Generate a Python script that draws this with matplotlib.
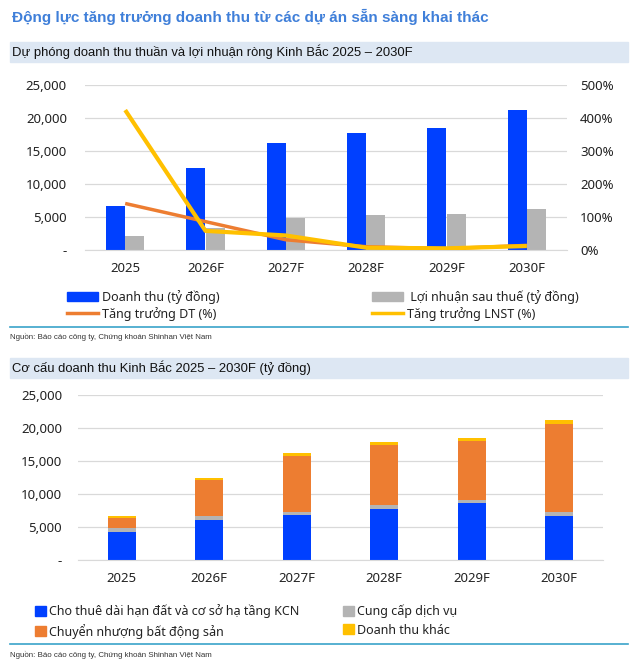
import numpy as np
import matplotlib.pyplot as plt
from matplotlib.patches import Rectangle, Patch
from matplotlib.lines import Line2D
from matplotlib.ticker import FuncFormatter

plt.rcParams['font.family'] = ['Noto Sans', 'DejaVu Sans']
NARROW = ['Liberation Sans', 'DejaVu Sans']

years = ['2025', '2026F', '2027F', '2028F', '2029F', '2030F']

# chart 1: revenue / net profit (ty dong), growth (%)
doanh_thu = [6650, 12400, 16200, 17800, 18500, 21150]
loi_nhuan = [2150, 3400, 4900, 5250, 5500, 6150]
tang_truong_dt = [141, 86, 31, 10, 4, 14]
tang_truong_lnst = [424, 58, 44, 7, 5, 12]

# chart 2: revenue structure (ty dong)
cho_thue = [4300, 6100, 6800, 7750, 8600, 6650]
dich_vu = [500, 500, 500, 550, 550, 600]
chuyen_nhuong = [1500, 5450, 8500, 9150, 8900, 13400]
khac = [350, 350, 400, 400, 450, 500]

BLUE = '#0040ff'
GRAY = '#b4b4b4'
ORANGE = '#ed7d31'
YELLOW = '#ffc000'
TEAL = '#3aa3c9'
BAND = '#dde7f3'
TXT = '#222222'

W, H = 634, 667
fig = plt.figure(figsize=(W / 100, H / 100), dpi=100)


def fy(y):
    return 1 - y / H


def fx(x):
    return x / W


def thousands(v, pos):
    return '-' if v == 0 else f'{v:,.0f}'


# headings
fig.text(fx(12), fy(17), 'Động lực tăng trưởng doanh thu từ các dự án sẵn sàng khai thác',
         color='#3f7fd9', fontsize=11, fontweight='bold', va='center', family=NARROW)
for top, txt in [(42, 'Dự phóng doanh thu thuần và lợi nhuận ròng Kinh Bắc 2025 – 2030F'),
                 (358, 'Cơ cấu doanh thu Kinh Bắc 2025 – 2030F (tỷ đồng)')]:
    fig.patches.append(Rectangle((fx(10), fy(top + 20)), fx(618), 20 / H,
                                 transform=fig.transFigure, color=BAND, zorder=0))
    fig.text(fx(12), fy(top + 10), txt, color='#111111', fontsize=9.4, va='center',
             family=NARROW)

for y in [327, 644]:
    fig.add_artist(Line2D([fx(10), fx(628)], [fy(y), fy(y)], color=TEAL, lw=1.2))
for y in [337, 655]:
    fig.text(fx(10), fy(y), 'Nguồn: Báo cáo công ty, Chứng khoán Shinhan Việt Nam',
             fontsize=5.7, color='#333333', va='center', family=NARROW)

x = np.arange(len(years))

# ---- chart 1
ax = fig.add_axes([fx(85), fy(250), fx(482), 165 / H])
w = 0.24
ax.bar(x - w / 2, doanh_thu, w, color=BLUE, zorder=2)
ax.bar(x + w / 2, loi_nhuan, w, color=GRAY, zorder=2)
ax.set_ylim(0, 25000)
ax.set_yticks(np.arange(0, 25001, 5000))
ax.yaxis.set_major_formatter(FuncFormatter(thousands))
ax.set_xlim(-0.5, 5.5)
ax.set_xticks(x, years)
ax.grid(axis='y', color='#d9d9d9', lw=0.9, zorder=0)
ax.set_axisbelow(True)

ax2 = ax.twinx()
ax2.plot(x, tang_truong_dt, color=ORANGE, lw=2.5, solid_capstyle='butt', zorder=3)
ax2.plot(x, tang_truong_lnst, color=YELLOW, lw=3, solid_capstyle='butt', zorder=4)
ax2.set_ylim(0, 500)
ax2.set_yticks(np.arange(0, 501, 100))
ax2.yaxis.set_major_formatter(FuncFormatter(lambda v, p: f'{v:.0f}%'))

for a in (ax, ax2):
    for s in a.spines.values():
        s.set_visible(False)
    a.tick_params(length=0, labelsize=9.5, labelcolor=TXT)
ax.spines['bottom'].set_visible(True)
ax.spines['bottom'].set_color('#d9d9d9')
ax.tick_params(axis='y', pad=13)
ax.tick_params(axis='x', pad=9)
ax2.tick_params(axis='y', pad=9.5)

h1 = [Patch(color=BLUE), Line2D([], [], color=ORANGE, lw=2.5),
      Patch(color=GRAY), Line2D([], [], color=YELLOW, lw=2.5)]
l1 = ['Doanh thu (tỷ đồng)', 'Tăng trưởng DT (%)',
      ' Lợi nhuận sau thuế (tỷ đồng)', 'Tăng trưởng LNST (%)']
fig.legend(h1, l1, ncol=2, loc='upper left', bbox_to_anchor=(fx(67), fy(290)),
           frameon=False, fontsize=9, handlelength=2.5, handleheight=0.8,
           handletextpad=0.3, columnspacing=12.2, labelspacing=0.25,
           borderpad=0, borderaxespad=0, labelcolor=TXT)

# ---- chart 2
bx = fig.add_axes([fx(78), fy(560), fx(525), 165 / H])
bw = 0.32
bottom = np.zeros(len(years))
for vals, col in [(cho_thue, BLUE), (dich_vu, GRAY), (chuyen_nhuong, ORANGE), (khac, YELLOW)]:
    bx.bar(x, vals, bw, bottom=bottom, color=col, zorder=2)
    bottom += np.array(vals)
bx.set_ylim(0, 25000)
bx.set_yticks(np.arange(0, 25001, 5000))
bx.yaxis.set_major_formatter(FuncFormatter(thousands))
bx.set_xlim(-0.5, 5.5)
bx.set_xticks(x, years)
bx.grid(axis='y', color='#d9d9d9', lw=0.9, zorder=0)
bx.set_axisbelow(True)
for s in bx.spines.values():
    s.set_visible(False)
bx.spines['bottom'].set_visible(True)
bx.spines['bottom'].set_color('#d9d9d9')
bx.tick_params(length=0, labelsize=9.5, labelcolor=TXT)
bx.tick_params(axis='y', pad=11.5)
bx.tick_params(axis='x', pad=9)

h2 = [Patch(color=BLUE), Patch(color=ORANGE), Patch(color=GRAY), Patch(color=YELLOW)]
l2 = ['Cho thuê dài hạn đất và cơ sở hạ tầng KCN', 'Chuyển nhượng bất động sản',
      'Cung cấp dịch vụ', 'Doanh thu khác']
fig.legend(h2, l2, ncol=2, loc='upper left', bbox_to_anchor=(fx(35), fy(604)),
           frameon=False, fontsize=9, handlelength=0.85, handleheight=0.85,
           handletextpad=0.25, columnspacing=3.5, labelspacing=0.45,
           borderpad=0, borderaxespad=0, labelcolor=TXT)

fig.savefig('out.png', dpi=100)
